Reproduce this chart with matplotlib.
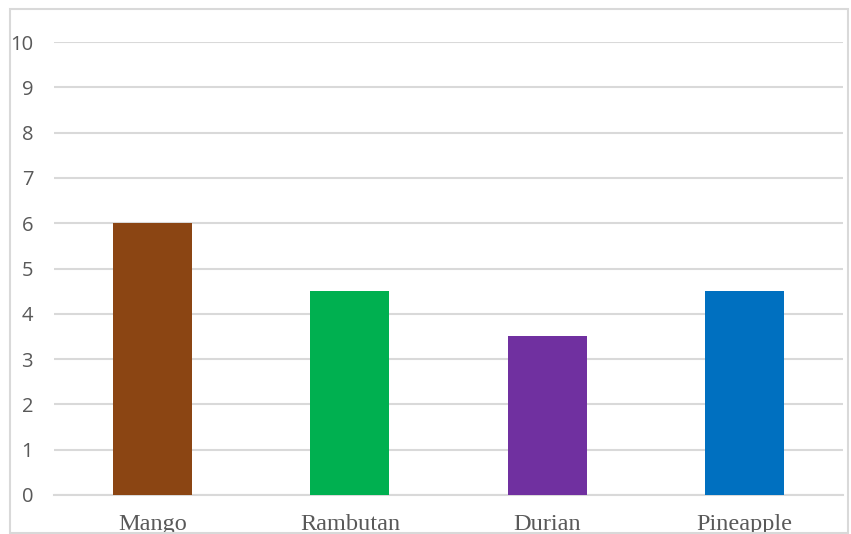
import matplotlib.pyplot as plt
from matplotlib.patches import Rectangle

fruits = ["Mango", "Rambutan", "Durian", "Pineapple"]
scores = [6, 4.5, 3.5, 4.5]
bar_colors = ["#8B4513", "#00B050", "#7030A0", "#0070C0"]
y_ticks = list(range(0, 11))

fig = plt.figure(figsize=(8.51, 5.34), dpi=100)
ax = fig.add_axes([54 / 851, (534 - 495) / 534, (843 - 54) / 851, (495 - 42) / 534])

x = range(len(fruits))
ax.bar(x, scores, width=0.4, color=bar_colors, zorder=3)

ax.set_xlim(-0.5, len(fruits) - 0.5)
ax.set_ylim(0, 10)
ax.set_yticks(y_ticks)
ax.set_xticks(list(x))
ax.set_xticklabels(fruits, family="Liberation Serif", fontsize=17.5, color="#595959")
ax.tick_params(axis="y", length=0, pad=15, labelsize=14.5, labelcolor="#595959")
ax.tick_params(axis="x", length=0, pad=14)
for lbl in ax.get_yticklabels():
    lbl.set_family("Open Sans")

ax.grid(axis="y", color="#d9d9d9", linewidth=1.5, zorder=0)
for s in ["top", "right", "left"]:
    ax.spines[s].set_visible(False)
ax.spines["bottom"].set_color("#d9d9d9")
ax.spines["bottom"].set_linewidth(1.5)

# outer chart border
fig.patches.append(Rectangle((10 / 851, 1 / 534), 838 / 851, 524 / 534,
                             transform=fig.transFigure, fill=False,
                             edgecolor="#d9d9d9", linewidth=1.5))

fig.savefig("out.png", dpi=100)
